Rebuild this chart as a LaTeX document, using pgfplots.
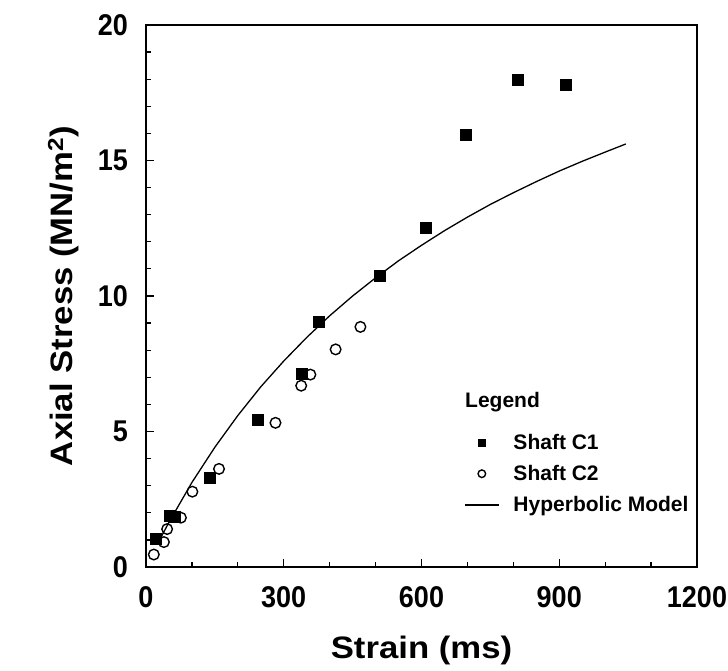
\documentclass[border=0pt]{standalone}
\usepackage{fontspec}
\setmainfont{Liberation Sans}
\newfontfamily\tickfont[FakeStretch=0.9]{Liberation Sans}
\newfontfamily\labfont[FakeStretch=1.12]{Liberation Sans}
\usepackage{pgfplots}
\pgfplotsset{compat=1.18}
\usetikzlibrary{calc}
\begin{document}
\begin{tikzpicture}
\begin{axis}[
  width=551bp, height=542bp, scale only axis,
  xmin=0, xmax=1200, ymin=0, ymax=20,
  xtick={0,300,600,900,1200}, ytick={0,5,10,15,20},
  minor x tick num=2, minor y tick num=4,
  tick pos=left, tick align=inside,
  major tick length=8bp, minor tick length=5bp,
  axis line style={line width=2.2bp},
  every tick/.style={line width=1.2bp, black},
  /pgf/number format/assume math mode=true,
  /pgf/number format/1000 sep={},
  tick label style={font=\tickfont\bfseries\fontsize{30bp}{30bp}\selectfont, inner sep=0pt},
  xticklabel style={anchor=north, yshift=-19bp},
  yticklabel style={anchor=east, xshift=-18bp},
  xlabel={Strain (ms)},
  ylabel={Axial Stress (MN/m\textsuperscript{2})},
  label style={font=\labfont\bfseries\fontsize{31bp}{31bp}\selectfont, inner sep=0pt},
  xlabel style={at={(axis description cs:0.5,-0.1679)}, anchor=base},
  ylabel style={at={(axis description cs:-0.1343,0.5)}, anchor=base, rotate=0},
  legend style={draw=none, fill=none, at={(axis description cs:0.5717,0.2528)}, anchor=north west,
    font=\bfseries\fontsize{21bp}{24bp}\selectfont, row sep=10.5bp,
    nodes={inner sep=2bp},
    /tikz/every odd column/.append style={column sep=12bp}},
  legend cell align=left,
  legend image code/.code={\draw[mark repeat=2,mark phase=2,#1] plot coordinates {(0bp,0bp) (17bp,0bp) (34bp,0bp)};},
  legend image post style={mark size=3.8bp},
  clip=false,
]
\coordinate (bl) at (rel axis cs:0,0);
\coordinate (tr) at (rel axis cs:1,1);
\addplot[only marks, mark=square*, mark size=5.5bp, black, mark options={fill=black}] coordinates {
(21,1.03) (52,1.89) (62,1.87) (139,3.28) (244,5.42) (340,7.13) (377,9.07) (508,10.75) (609,12.51) (697,15.97) (810,17.99) (915,17.80)
};
\addlegendentry{Shaft C1}
\addplot[only marks, mark=o, mark size=5.3bp, black, mark options={line width=1.4bp}] coordinates {
(17,0.46) (39,0.92) (46,1.40) (76,1.82) (101,2.78) (159,3.62) (282,5.32) (338,6.69) (358,7.10) (413,8.03) (467,8.86)
};
\addlegendentry{Shaft C2}
\addplot[black, line width=1.3bp, no marks] coordinates {
(25,0.85) (50,1.65) (100,3.12) (150,4.42) (200,5.59) (250,6.65) (300,7.60) (350,8.47) (400,9.27) (450,10.00) (500,10.67) (550,11.30) (600,11.87) (650,12.41) (700,12.91) (750,13.38) (800,13.81) (850,14.22) (900,14.61) (950,14.97) (1000,15.31) (1045,15.61)
};
\addlegendentry{Hyperbolic Model}
\node[anchor=base west, inner sep=0pt, font=\bfseries\fontsize{21bp}{24bp}\selectfont] at (axis description cs:0.579,0.2934) {Legend};
\end{axis}
\pgfresetboundingbox
\path[use as bounding box] ($(bl)+(-146bp,-104bp)$) rectangle ($(tr)+(31bp,25bp)$);
\end{tikzpicture}
\end{document}
